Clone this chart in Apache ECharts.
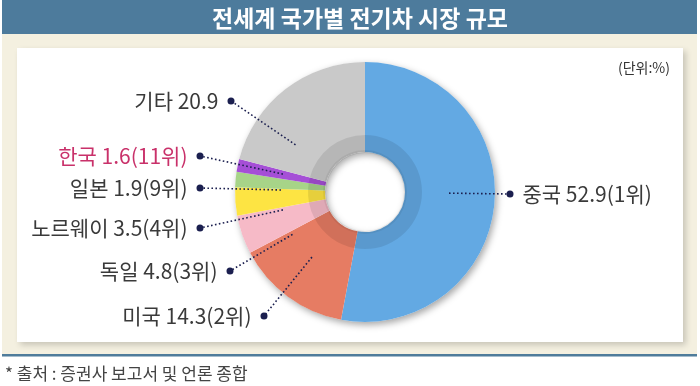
<!DOCTYPE html>
<html><head><meta charset="utf-8">
<script src="https://cdn.jsdelivr.net/npm/echarts@6/dist/echarts.min.js"></script>
<style>html,body{margin:0;padding:0;background:#fff}#c{width:700px;height:386px}</style>
</head><body><div id="c"></div>
<script>
// ---- data ----
const countries = ['중국', '미국', '독일', '노르웨이', '일본', '한국', '기타'];
const shares = [52.9, 14.3, 4.8, 3.5, 1.9, 1.6, 20.9];
const ranks = [1, 2, 3, 4, 9, 11, null];
const titleText = '전세계 국가별 전기차 시장 규모';
const unitText = '(단위:%)';
const sourceText = '* 출처 : 증권사 보고서 및 언론 종합';

// ---- styles / layout ----
const FONT = '"Noto Sans CJK KR", "Noto Sans", sans-serif';
const colors = ['#63a9e3', '#e67c63', '#f6bac7', '#fde443', '#a7d488', '#a54fd6', '#c9c9c9'];
const labelColors = ['#3a3a3a', '#3a3a3a', '#3a3a3a', '#3a3a3a', '#3a3a3a', '#c9316a', '#3a3a3a'];
const dotColor = '#1b1f4f';
// label anchor (dot centre) placement
const labelAnchors = [
  { x: 510, y: 194, side: 'right' },
  { x: 264, y: 316, side: 'left' },
  { x: 230, y: 271, side: 'left' },
  { x: 200, y: 228, side: 'left' },
  { x: 200, y: 188, side: 'left' },
  { x: 200, y: 156, side: 'left' },
  { x: 231, y: 101, side: 'left' }
];
const CENTER = [365, 192];
const DOT_R = 3.5;
const LEADER_R = 84; // leader lines start this far from the centre

const labelText = (i) => countries[i] + ' ' + shares[i].toFixed(1) + (ranks[i] != null ? '(' + ranks[i] + '위)' : '');

const seriesData = countries.map((c, i) => ({ name: c, value: shares[i], itemStyle: { color: colors[i] } }));
const total = shares.reduce((a, b) => a + b, 0);

const chart = echarts.init(document.getElementById('c'), null, { renderer: 'canvas' });
chart.setOption({
  backgroundColor: '#ffffff',
  animation: false,
  graphic: [
    { type: 'rect', z: -10, shape: { x: 2, y: 34, width: 695, height: 320 }, style: { fill: '#f4f0e0' } },
    { type: 'rect', z: -10, shape: { x: 2, y: 354, width: 695, height: 2.5 }, style: { fill: '#4f7c9b' } },
    { type: 'rect', z: -9, shape: { x: 17, y: 48, width: 666, height: 294 },
      style: { fill: '#ffffff', shadowBlur: 6, shadowOffsetX: 3, shadowOffsetY: 3, shadowColor: 'rgba(0,0,0,0.18)' } },
    { type: 'rect', z: -10, shape: { x: 2, y: 0, width: 695, height: 34 }, style: { fill: '#4d7b9c' } },
    { type: 'text', z: 5, x: 360, y: 18, style: { text: titleText, fill: '#ffffff', font: 'bold 23px ' + FONT, align: 'center', verticalAlign: 'middle' } },
    { type: 'text', z: 5, x: 670, y: 68, style: { text: unitText, fill: '#333333', font: '14px ' + FONT, align: 'right', verticalAlign: 'middle' } },
    { type: 'text', z: 5, x: 5, y: 374, style: { text: sourceText, fill: '#444444', font: '17px ' + FONT, align: 'left', verticalAlign: 'middle' } }
  ],
  series: [
    { // shadow underlay
      type: 'pie', silent: true, z: 1, center: CENTER, radius: [40, 130], startAngle: 90,
      label: { show: false }, labelLine: { show: false },
      data: [{ value: total, itemStyle: { color: '#ffffff', shadowBlur: 7, shadowOffsetX: 2, shadowOffsetY: 3, shadowColor: 'rgba(0,0,0,0.35)' } }]
    },
    { // main donut
      type: 'pie', silent: true, z: 2, center: CENTER, radius: [40, 130], startAngle: 90, clockwise: true,
      label: { show: false }, labelLine: { show: false },
      itemStyle: { borderWidth: 0 },
      data: seriesData
    },
    { // inner darker ring
      type: 'pie', silent: true, z: 3, center: CENTER, radius: [40, 57], startAngle: 90, clockwise: true,
      label: { show: false }, labelLine: { show: false },
      data: shares.map(v => ({ value: v, itemStyle: { color: 'rgba(0,0,0,0.09)' } }))
    },
    { // hole edge shading
      type: 'pie', silent: true, z: 3, center: CENTER, radius: [39, 42], startAngle: 90,
      label: { show: false }, labelLine: { show: false },
      data: [{ value: total, itemStyle: { color: 'rgba(0,0,0,0.06)' } }]
    },
    { // labels with dotted leader lines
      type: 'pie', silent: true, z: 4, center: CENTER, radius: [0, 88], startAngle: 90, clockwise: true,
      itemStyle: { color: 'rgba(0,0,0,0)' },
      emphasis: { disabled: true },
      data: countries.map((c, i) => ({
        name: c, value: shares[i],
        label: {
          formatter: labelAnchors[i].side === 'left' ? '{t|' + labelText(i) + '}{g|}{d|}' : '{d|}{g|}{t|' + labelText(i) + '}',
          rich: {
            t: { fontSize: 21, fontFamily: FONT, color: labelColors[i], lineHeight: 26 },
            g: { width: 9 },
            d: { width: 7, height: 7, borderRadius: 3.5, backgroundColor: dotColor }
          }
        }
      })),
      label: { show: true, position: 'outside' },
      labelLine: { show: true, length: 10, length2: 0, smooth: false, lineStyle: { color: dotColor, width: 1.6, type: [1.6, 2.4] } },
      labelLayout: function (p) {
        const a = labelAnchors[p.dataIndex];
        const dx = a.x - CENTER[0], dy = a.y - CENTER[1];
        const d = Math.sqrt(dx * dx + dy * dy);
        const start = [CENTER[0] + dx / d * LEADER_R, CENTER[1] + dy / d * LEADER_R];
        const pts = [start, [a.x, a.y], [a.x, a.y]];
        return a.side === 'left'
          ? { x: a.x + DOT_R, y: a.y, align: 'right', verticalAlign: 'middle', labelLinePoints: pts }
          : { x: a.x - DOT_R, y: a.y, align: 'left', verticalAlign: 'middle', labelLinePoints: pts };
      }
    }
  ]
});
</script></body></html>
